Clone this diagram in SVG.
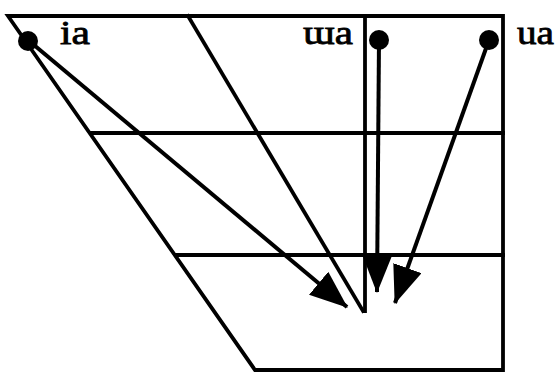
<svg xmlns="http://www.w3.org/2000/svg" width="556" height="372" viewBox="0 0 556 372">
<style>
.frame{fill:none;stroke:#000;stroke-width:3.8;stroke-linecap:square;stroke-linejoin:miter}
.conn{fill:none;stroke:#000;stroke-width:4}
.dot{fill:#000}
.lbl{font-family:"Liberation Serif","Times New Roman",serif;font-size:34px;fill:#000;stroke:#000;stroke-width:0.8}
</style>
<defs>
<marker id="ah" viewBox="0 0 38 30" refX="37" refY="15" markerWidth="38" markerHeight="30" markerUnits="userSpaceOnUse" orient="auto">
<path d="M0,0 L38,15 L0,30 z" fill="#000"/>
</marker>
</defs>
<rect width="556" height="372" fill="#fff"/>
<g id="chart">
<path class="frame" d="M8,16 L503,16 L503,370 L255,370 Z"/>
<line class="frame" x1="92" y1="133" x2="503" y2="133"/>
<line class="frame" x1="176" y1="255" x2="503" y2="255"/>
<line class="frame" x1="365" y1="16" x2="365" y2="311"/>
<line class="frame" x1="188" y1="16" x2="363" y2="311"/>
</g>
<g id="connectors">
<line class="conn" x1="28" y1="40" x2="347" y2="307" marker-end="url(#ah)"/>
<line class="conn" x1="379" y1="40" x2="377" y2="292" marker-end="url(#ah)"/>
<line class="conn" x1="489" y1="40" x2="395" y2="303" marker-end="url(#ah)"/>
</g>
<g id="node-ia">
<circle class="dot" cx="28" cy="41" r="10"/>
<text class="lbl" x="60" y="44" textLength="30" lengthAdjust="spacingAndGlyphs">ia</text>
</g>
<g id="node-wa">
<circle class="dot" cx="379" cy="40" r="10"/>
<text class="lbl" x="303" y="44" textLength="50" lengthAdjust="spacingAndGlyphs">ɯa</text>
</g>
<g id="node-ua">
<circle class="dot" cx="489" cy="40" r="10"/>
<text class="lbl" x="517" y="44" textLength="37" lengthAdjust="spacingAndGlyphs">ua</text>
</g>
</svg>
